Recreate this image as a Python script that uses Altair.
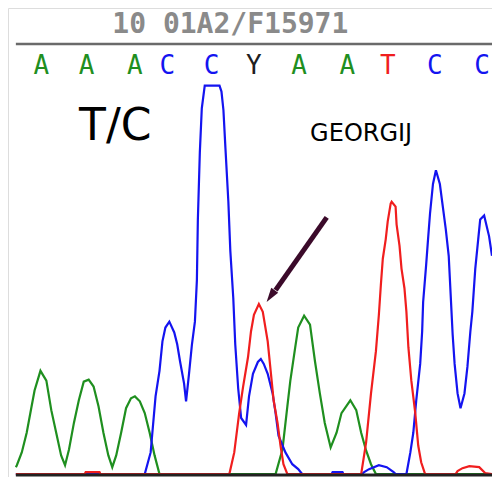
import altair as alt
import pandas as pd

# ---- data ----
title_text = "10 01A2/F15971"
genotype_label = "T/C"
name_label = "GEORGIJ"

call_bases = ["A", "A", "A", "C", "C", "Y", "A", "A", "T", "C", "C"]
call_pos = [42, 88, 137, 170, 215, 258, 304, 353, 394, 442, 490]

green_pos = [16, 17, 22, 27, 32, 35, 41, 47, 52, 57, 62, 66, 70, 75, 80, 85, 90, 95, 100, 105,
             110, 114, 118, 123, 128, 133, 137, 142, 147, 152, 157, 162, 200, 280, 287, 292, 295,
             300, 303, 309, 315, 320, 325, 330, 336, 342, 347, 356, 362, 367, 372, 377, 382, 500]
green_img = [475, 473, 460, 440, 413, 397, 377, 387, 417, 440, 463, 473, 457, 430, 407, 388, 386, 393, 413, 440,
             463, 475, 463, 440, 415, 405, 403, 408, 420, 440, 463, 482, 482, 482, 457, 413, 387,
             353, 333, 321, 330, 367, 400, 430, 455, 440, 420, 407, 417, 440, 458, 472, 482, 482]

blue_pos = [16, 147, 153, 158, 162, 165, 168, 172, 177, 180, 183, 187, 189, 192, 195, 198, 200, 201, 203, 205,
            208, 223, 225, 227, 229, 232, 234, 237, 239, 242, 245, 250, 253, 257, 262, 265, 268, 272, 277, 280,
            283, 290, 297, 303, 307, 337, 338, 348, 349, 368, 370, 375, 385, 393, 400, 402, 413, 417, 420, 423,
            427, 429, 430, 433, 435, 437, 440, 443, 447, 450, 453, 456, 458, 460, 462, 465, 468, 472, 475, 478,
            480, 483, 486, 488, 492, 497, 500]
blue_img = [482, 482, 460, 403, 377, 347, 333, 327, 338, 350, 368, 390, 408, 380, 350, 327, 285, 223, 155, 110,
            87, 87, 93, 112, 150, 205, 255, 303, 350, 395, 425, 432, 403, 380, 368, 365, 370, 380, 400, 420,
            443, 460, 472, 477, 482, 482, 480, 480, 482, 482, 480, 477, 473, 475, 480, 482, 482, 460, 440, 407,
            370, 337, 307, 270, 243, 217, 187, 173, 187, 210, 233, 260, 300, 340, 370, 400, 415, 400, 373, 337,
            317, 273, 243, 223, 219, 240, 260]

red_pos = [16, 86, 87, 101, 102, 233, 238, 243, 247, 252, 255, 258, 263, 267, 272, 275, 278, 282, 285, 288, 292,
           367, 372, 377, 382, 385, 387, 389, 392, 394, 397, 398, 402, 403, 406, 408, 411, 413, 415, 418, 422,
           425, 428, 432, 463, 465, 470, 477, 487, 493, 500]
red_img = [482, 482, 480, 480, 482, 482, 460, 420, 393, 363, 337, 320, 309, 317, 347, 377, 407, 430, 453, 472, 482,
           482, 450, 400, 357, 320, 290, 263, 243, 225, 207, 205, 210, 228, 250, 273, 293, 317, 353, 387, 420,
           453, 470, 482, 482, 479, 476, 474, 475, 481, 482]

BASE = 482  # signal zero level
rows = []
for base, xs_, ys_ in [("A", green_pos, green_img), ("C", blue_pos, blue_img), ("T", red_pos, red_img)]:
    for i, (x, y) in enumerate(zip(xs_, ys_)):
        rows.append({"base": base, "pos": x, "signal": BASE - y, "i": i})
traces = pd.DataFrame(rows)

calls = pd.DataFrame({"base": call_bases, "pos": call_pos})

W = 484
H = 469
SX = W / 492.0
SY = 467 / 475.0


def px(x_ref):
    return (x_ref - 8) * SX


def py(y_ref):
    return (y_ref - 8) * SY


xs = alt.Scale(domain=[8, 500], nice=False, zero=False)
ys = alt.Scale(domain=[-3, 474], nice=False, zero=False)
col = alt.Scale(domain=["A", "C", "T", "Y"], range=["#1f8f1f", "#1414f0", "#f01e1e", "#202020"])

lines = alt.Chart(traces).mark_line(strokeWidth=2.2, interpolate="linear").encode(
    x=alt.X("pos:Q", scale=xs, axis=None),
    y=alt.Y("signal:Q", scale=ys, axis=None),
    color=alt.Color("base:N", scale=col, legend=None),
    detail="base:N",
    order="i:Q",
)

baseline = alt.Chart(pd.DataFrame({"a": [0]})).mark_rule(color="#222222", strokeWidth=3).encode(
    x=alt.value(px(16)), x2=alt.value(W), y=alt.value(py(483))
)
topline = alt.Chart(pd.DataFrame({"a": [0]})).mark_rule(color="#6a6a6a", strokeWidth=2.5).encode(
    x=alt.value(px(16)), x2=alt.value(W), y=alt.value(py(44.5))
)

title = alt.Chart(pd.DataFrame({"t": [title_text]})).mark_text(
    font="DejaVu Sans Mono", fontSize=28, fontWeight="bold", color="#8a8a8a", baseline="alphabetic"
).encode(x=alt.value(px(234)), y=alt.value(py(33)), text="t:N")

letters = alt.Chart(calls).mark_text(
    font="DejaVu Sans Mono", fontSize=26, baseline="alphabetic"
).encode(
    x=alt.X("pos:Q", scale=xs, axis=None),
    y=alt.value(py(75)),
    text="base:N",
    color=alt.Color("base:N", scale=col, legend=None),
)

tc = alt.Chart(pd.DataFrame({"t": [genotype_label]})).mark_text(
    font="DejaVu Sans", fontSize=44, color="black", baseline="alphabetic"
).encode(x=alt.value(px(117)), y=alt.value(py(142)), text="t:N")

name = alt.Chart(pd.DataFrame({"t": [name_label]})).mark_text(
    font="DejaVu Sans", fontSize=24, color="black", baseline="alphabetic"
).encode(x=alt.value(px(367)), y=alt.value(py(143)), text="t:N")

arrow_df = pd.DataFrame({"x": [332], "y": [261], "x2": [280], "y2": [187]})
arrow_line = alt.Chart(arrow_df).mark_rule(color="#3b0a2a", strokeWidth=5).encode(
    x=alt.X("x:Q", scale=xs, axis=None), y=alt.Y("y:Q", scale=ys, axis=None), x2="x2:Q", y2="y2:Q"
)
head_df = pd.DataFrame({"x": [275], "y": [181]})
arrow_head = alt.Chart(head_df).mark_point(
    shape="M0,-1L0.6,1L-0.6,1Z", filled=True, opacity=1, color="#3b0a2a", size=200, angle=215
).encode(x=alt.X("x:Q", scale=xs, axis=None), y=alt.Y("y:Q", scale=ys, axis=None))

chart = alt.layer(
    lines, baseline, topline, title, letters, tc, name, arrow_line, arrow_head
).properties(
    width=W, height=H, padding=0, autosize=alt.AutoSizeParams(type="none")
).configure_view(stroke=None).configure(background="white")

chart.save("out.html", embed_options={"renderer": "svg", "actions": False})
